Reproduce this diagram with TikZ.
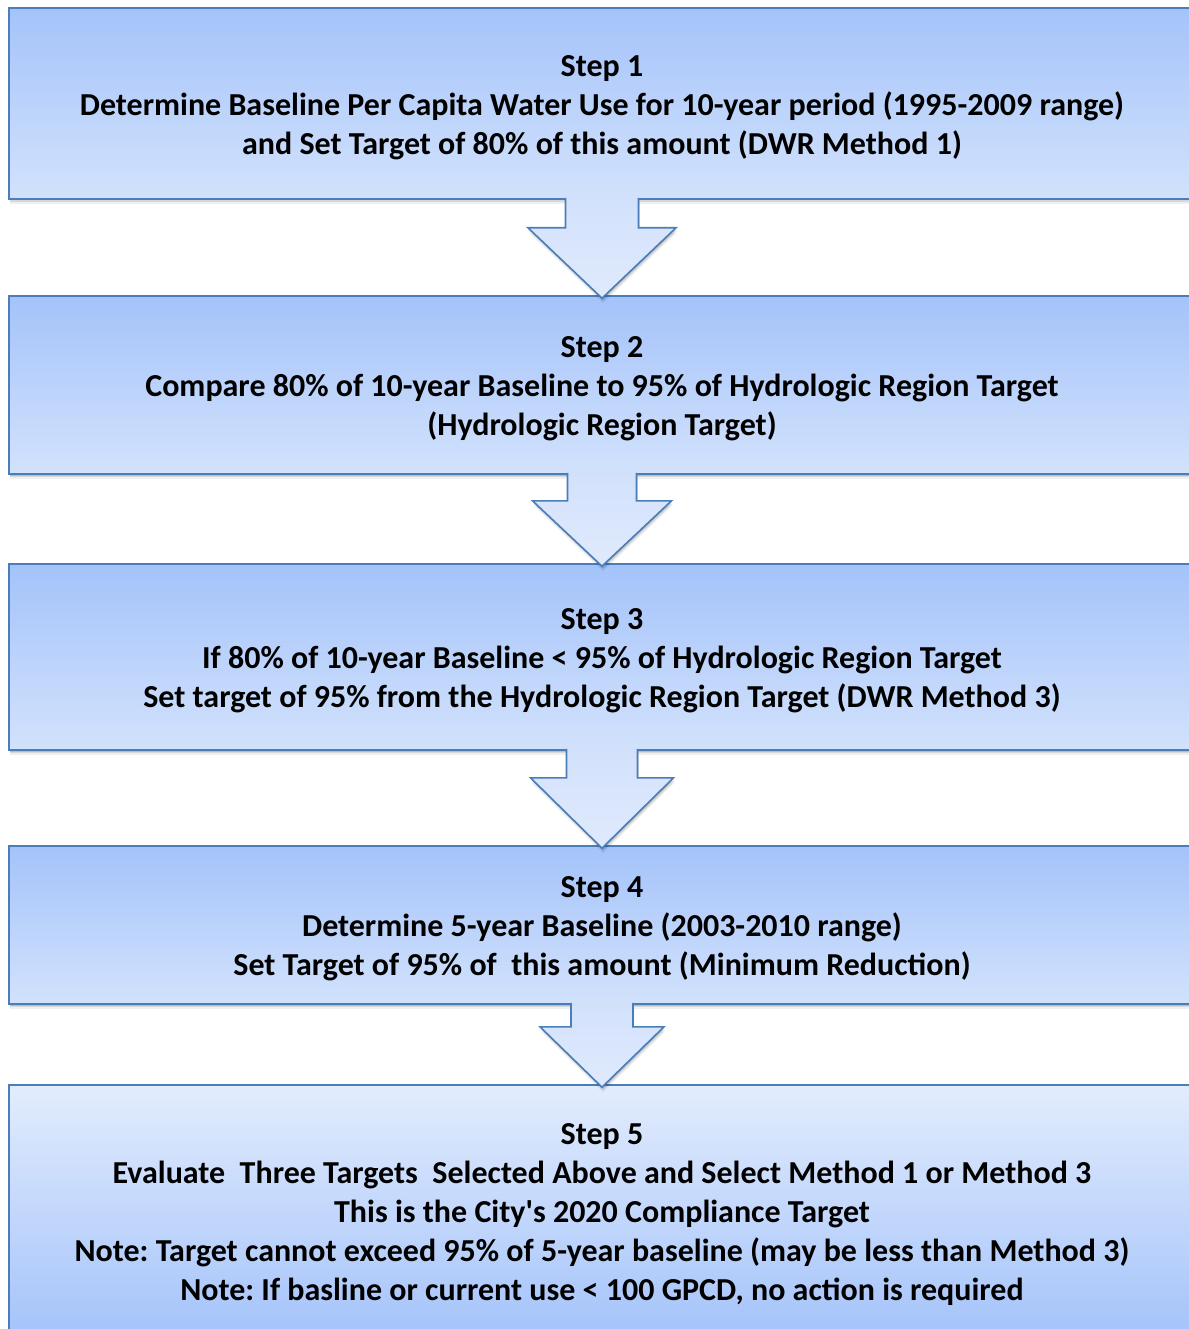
\documentclass[tikz,border=0pt]{standalone}
\usepackage{fontspec}
\setmainfont{Carlito}[Ligatures=TeXOff]
\usetikzlibrary{calc}
\definecolor{edgeblue}{RGB}{74,126,187}
\definecolor{boxdark}{RGB}{164,195,250}
\definecolor{boxlight}{RGB}{210,226,252}
\definecolor{arrowtop}{RGB}{210,225,251}
\definecolor{arrowbot}{RGB}{224,234,253}
\definecolor{lastlight}{RGB}{226,236,253}
\frenchspacing
\tikzset{
  shadowed/.style={
    preaction={fill=black,opacity=.06,transform canvas={xshift=1pt,yshift=-5pt}},
    preaction={fill=black,opacity=.10,transform canvas={xshift=1pt,yshift=-3pt}},
    preaction={fill=black,opacity=.12,transform canvas={xshift=0.5pt,yshift=-1.5pt}}},
  stepbox/.style={draw=edgeblue, line width=1.6pt, rectangle, inner sep=0pt,
    minimum width=1186pt, shadowed},
  steptext/.style={inner sep=0pt, align=center,
    font=\fontsize{32}{39}\selectfont\bfseries, text=black},
  normalgrad/.style={top color=boxdark, bottom color=boxlight},
  lastgrad/.style={top color=lastlight, bottom color=boxdark},
  blockarrow/.style={draw=edgeblue, line width=1.6pt, line join=miter,
    top color=arrowtop, bottom color=arrowbot, shadowed}
}
\begin{document}
\begin{tikzpicture}[x=1pt,y=-1pt]
\useasboundingbox[fill=white] (0,0) rectangle (1188,1329);
\node[stepbox, normalgrad, minimum height=191pt] (s1) at (602,103.5) {};
\node[stepbox, normalgrad, minimum height=178pt] (s2) at (602,385) {};
\node[stepbox, normalgrad, minimum height=186pt] (s3) at (602,657) {};
\node[stepbox, normalgrad, minimum height=158pt] (s4) at (602,925) {};
\node[stepbox, lastgrad, minimum height=252pt] (s5) at (602,1211) {};
\node[steptext] (t1) at ($(s1.center)+(0,3.8)$)
  {Step 1\\Determine Baseline Per Capita Water Use for 10-year period (1995-2009 range)\\and Set Target of 80\% of this amount (DWR Method 1)};
\node[steptext] (t2) at ($(s2.center)+(0,4.2)$)
  {Step 2\\Compare 80\% of 10-year Baseline to 95\% of Hydrologic Region Target\\(Hydrologic Region Target)};
\node[steptext] (t3) at ($(s3.center)+(0,3.8)$)
  {Step 3\\If 80\% of 10-year Baseline < 95\% of Hydrologic Region Target\\Set target of 95\% from the Hydrologic Region Target (DWR Method 3)};
\node[steptext] (t4) at ($(s4.center)+(0,3.8)$)
  {Step 4\\Determine 5-year Baseline (2003-2010 range)\\Set Target of 95\% of\ \ this amount (Minimum Reduction)};
\node[steptext] (t5) at ($(s5.center)+(0,3.6)$)
  {Step 5\\Evaluate\ \ Three Targets\ \ Selected Above and Select Method 1 or Method 3\\This is the City's 2020 Compliance Target\\Note: Target cannot exceed 95\% of 5-year baseline (may be less than Method 3)\\Note: If basline or current use < 100 GPCD, no action is required};
% block arrows
\newcommand\stepdownarrow[5]{%
  \path[blockarrow] let \p1=($(#1.south)+(0,-2)$), \p2=($(#2.north)+(0,3)$) in
    (\x1-#3pt,\y1) -- (\x1-#3pt,\y1-#5pt) -- (\x1-#4pt,\y1-#5pt) -- (\x1,\y2)
    -- (\x1+#4pt,\y1-#5pt) -- (\x1+#3pt,\y1-#5pt) -- (\x1+#3pt,\y1);}
\stepdownarrow{s1}{s2}{36.5}{74}{30}
\stepdownarrow{s2}{s3}{34.5}{69.5}{28}
\stepdownarrow{s3}{s4}{35.5}{71.5}{29}
\stepdownarrow{s4}{s5}{31}{62}{24}
\end{tikzpicture}
\end{document}
